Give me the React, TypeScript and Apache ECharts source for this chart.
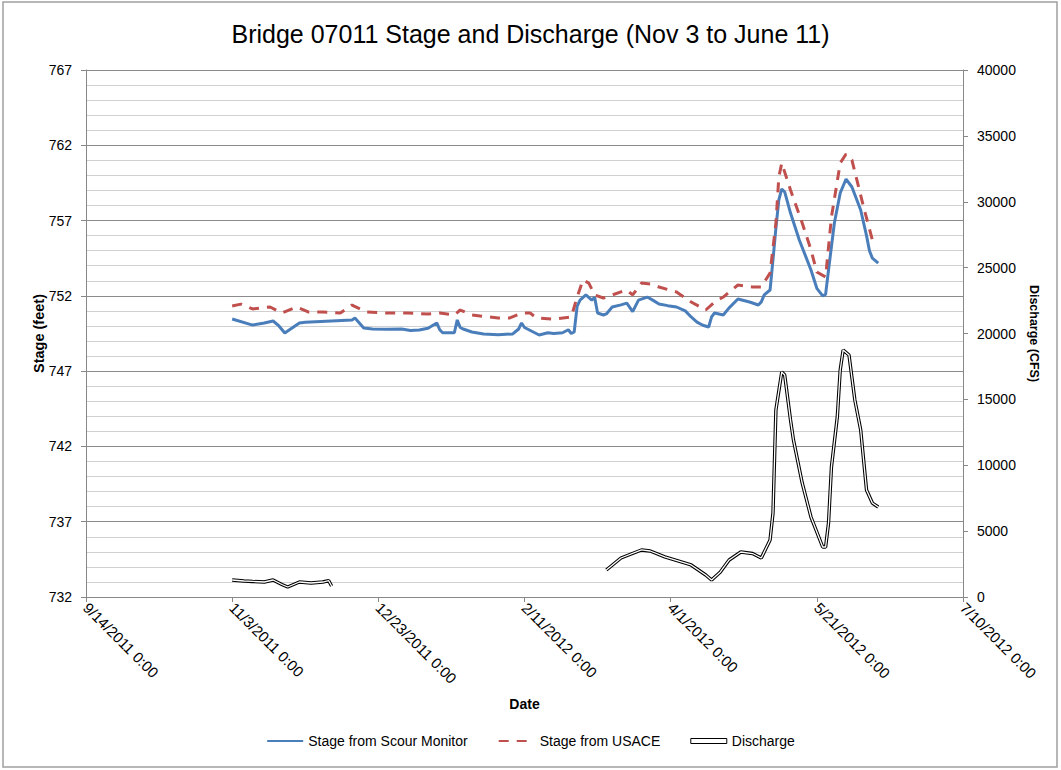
import React, { useEffect, useRef } from "react";
import * as echarts from "echarts";

const FONT = "'Liberation Sans', Arial, sans-serif";
const START = Date.UTC(2011, 8, 14);
const DAY = 86400000;

const scourDates = ["2011-11-03","2011-11-10","2011-11-14","2011-11-17","2011-11-19","2011-11-21","2011-11-26","2011-11-28","2011-12-14","2011-12-15","2011-12-18","2011-12-21","2011-12-26","2011-12-31","2012-01-03","2012-01-06","2012-01-09","2012-01-12","2012-01-13","2012-01-14","2012-01-18","2012-01-19","2012-01-20","2012-01-21","2012-01-24","2012-01-28","2012-02-02","2012-02-07","2012-02-09","2012-02-10","2012-02-11","2012-02-13","2012-02-16","2012-02-19","2012-02-21","2012-02-24","2012-02-26","2012-02-27","2012-02-28","2012-02-29","2012-03-01","2012-03-03","2012-03-05","2012-03-06","2012-03-07","2012-03-09","2012-03-10","2012-03-12","2012-03-15","2012-03-17","2012-03-19","2012-03-21","2012-03-24","2012-03-26","2012-03-28","2012-03-31","2012-04-03","2012-04-06","2012-04-08","2012-04-10","2012-04-12","2012-04-14","2012-04-15","2012-04-16","2012-04-19","2012-04-21","2012-04-24","2012-04-28","2012-05-01","2012-05-02","2012-05-03","2012-05-05","2012-05-06","2012-05-07","2012-05-08","2012-05-09","2012-05-10","2012-05-12","2012-05-15","2012-05-19","2012-05-21","2012-05-23","2012-05-24","2012-05-25","2012-05-27","2012-05-29","2012-05-31","2012-06-02","2012-06-05","2012-06-07","2012-06-08","2012-06-09","2012-06-11"];
const scourStage = [750.46,750.06,750.2,750.33,750.0,749.53,750.2,750.25,750.4,750.53,749.87,749.8,749.78,749.8,749.7,749.73,749.85,750.2,749.75,749.55,749.55,750.4,749.9,749.8,749.6,749.47,749.42,749.47,749.8,750.2,749.9,749.7,749.4,749.55,749.5,749.55,749.75,749.5,749.6,751.3,751.72,752.06,751.72,751.9,750.86,750.73,750.8,751.26,751.4,751.52,750.95,751.72,751.92,751.7,751.46,751.35,751.26,751.0,750.6,750.26,750.05,749.93,750.6,750.86,750.73,751.2,751.79,751.59,751.39,751.6,752.06,752.39,754.4,756.5,758.37,759.1,758.9,757.5,755.71,753.72,752.5,752.0,752.1,753.72,756.84,758.83,759.76,759.23,757.7,756.0,755.0,754.5,754.18];

const usaceDates = ["2011-11-03","2011-11-06","2011-11-10","2011-11-16","2011-11-20","2011-11-25","2011-11-29","2011-12-04","2011-12-10","2011-12-14","2011-12-19","2011-12-26","2012-01-02","2012-01-09","2012-01-13","2012-01-18","2012-01-20","2012-01-24","2012-02-02","2012-02-06","2012-02-10","2012-02-13","2012-02-15","2012-02-21","2012-02-27","2012-02-29","2012-03-02","2012-03-04","2012-03-06","2012-03-09","2012-03-15","2012-03-17","2012-03-19","2012-03-22","2012-03-25","2012-03-28","2012-04-03","2012-04-08","2012-04-13","2012-04-16","2012-04-19","2012-04-24","2012-04-29","2012-05-02","2012-05-05","2012-05-07","2012-05-08","2012-05-09","2012-05-12","2012-05-16","2012-05-19","2012-05-21","2012-05-24","2012-05-26","2012-05-29","2012-05-31","2012-06-02","2012-06-06","2012-06-09","2012-06-11"];
const usaceStage = [751.33,751.45,751.13,751.26,750.86,751.26,750.93,750.93,750.86,751.39,750.93,750.86,750.86,750.79,750.86,750.73,751.06,750.73,750.53,750.53,750.86,750.86,750.53,750.46,750.6,751.92,753.05,752.85,752.06,751.86,752.26,752.39,752.06,752.85,752.79,752.59,752.26,751.59,751.06,751.59,751.92,752.72,752.59,752.59,753.52,756.84,759.89,760.82,759.03,756.84,755.05,753.58,753.25,757.24,760.82,761.42,761.02,757.9,755.71,755.51];

const dischargeDatesA = ["2011-11-03","2011-11-07","2011-11-10","2011-11-14","2011-11-17","2011-11-20","2011-11-22","2011-11-26","2011-11-30","2011-12-04","2011-12-06","2011-12-07"];
const dischargeA = [1290,1214,1180,1138,1290,950,760,1138,1063,1138,1250,835];

const dischargeDatesB = ["2012-03-10","2012-03-15","2012-03-22","2012-03-25","2012-03-30","2012-04-08","2012-04-13","2012-04-15","2012-04-18","2012-04-21","2012-04-25","2012-04-29","2012-05-02","2012-05-05","2012-05-06","2012-05-07","2012-05-09","2012-05-10","2012-05-12","2012-05-13","2012-05-16","2012-05-19","2012-05-23","2012-05-24","2012-05-25","2012-05-26","2012-05-28","2012-05-29","2012-05-30","2012-06-01","2012-06-03","2012-06-05","2012-06-07","2012-06-09","2012-06-11"];
const dischargeB = [2050,2960,3570,3490,3040,2430,1670,1290,1900,2810,3415,3300,2960,4326,6376,14190,17080,16850,13430,11920,8650,6070,3795,3795,5617,9870,13660,17230,18750,18370,14950,12680,8120,7130,6830];

const toDay = (s: string) => {
  const [y, m, d] = s.split("-").map(Number);
  return (Date.UTC(y, m - 1, d) - START) / DAY;
};
const pairs = (dates: string[], vals: number[]) => dates.map((d, i) => [toDay(d), vals[i]]);
const dayLabel = (v: number) => {
  const dt = new Date(START + v * DAY);
  return `${dt.getUTCMonth() + 1}/${dt.getUTCDate()}/${dt.getUTCFullYear()} 0:00`;
};

export default function App() {
  const ref = useRef<HTMLDivElement>(null);
  useEffect(() => {
    if (!ref.current) return;
    const chart = echarts.init(ref.current, undefined, { renderer: "svg" });
    const dischargeData: any[] = [...pairs(dischargeDatesA, dischargeA), [toDay("2011-12-08"), null], ...pairs(dischargeDatesB, dischargeB)];
    chart.setOption({
      animation: false,
      backgroundColor: "#fff",
      textStyle: { fontFamily: FONT },
      title: {
        text: "Bridge 07011 Stage and Discharge (Nov 3 to June 11)",
        left: "center",
        top: 16,
        textStyle: { fontFamily: FONT, fontSize: 25, fontWeight: "normal", color: "#000" },
      },
      graphic: [
        { type: "rect", shape: { x: 3, y: 2, width: 1054, height: 765 }, style: { fill: "none", stroke: "#a0a0a0", lineWidth: 1.5 }, silent: true },
      ],
      legend: {
        bottom: 17,
        left: "center",
        itemWidth: 36,
        itemHeight: 5,
        itemGap: 30,
        textStyle: { fontFamily: FONT, fontSize: 14, color: "#000" },
        data: [
          { name: "Stage from Scour Monitor", itemStyle: { opacity: 0 } },
          { name: "Stage from USACE", itemStyle: { opacity: 0 } },
          { name: "Discharge", icon: "rect", itemStyle: { color: "#fff", borderColor: "#000", borderWidth: 1 } },
        ],
      },
      grid: { left: 86, right: 98, top: 70, bottom: 173 },
      xAxis: {
        type: "value",
        min: 0,
        max: 300,
        interval: 50,
        name: "Date",
        nameLocation: "middle",
        nameGap: 100,
        nameMoveOverlap: false,
        nameTextStyle: { fontFamily: FONT, fontSize: 14, fontWeight: "bold", color: "#000" },
        axisLine: { show: true, lineStyle: { color: "#888" } },
        axisTick: { show: true, length: 5, lineStyle: { color: "#888" } },
        splitLine: { show: false },
        axisLabel: { rotate: -45, margin: 8, fontSize: 15, color: "#000", fontFamily: FONT, formatter: dayLabel },
      },
      yAxis: [
        {
          type: "value",
          min: 732,
          max: 767,
          interval: 5,
          name: "Stage (feet)",
          nameLocation: "middle",
          nameGap: 40,
          nameMoveOverlap: false,
          nameTextStyle: { fontFamily: FONT, fontSize: 14.5, fontWeight: "bold", color: "#000" },
          axisLine: { show: true, lineStyle: { color: "#888" } },
          axisTick: { show: true, length: 5, lineStyle: { color: "#888" } },
          axisLabel: { fontSize: 14, color: "#000", margin: 14, fontFamily: FONT },
          splitLine: { show: true, lineStyle: { color: "#8c8c8c", width: 1 } },
          minorTick: { show: false, splitNumber: 5 },
          minorSplitLine: { show: true, lineStyle: { color: "#d0d0d0", width: 1.2 } },
        },
        {
          type: "value",
          min: 0,
          max: 40000,
          interval: 5000,
          name: "Discharge (CFS)",
          nameLocation: "middle",
          nameRotate: -90,
          nameGap: 64,
          nameTextStyle: { fontFamily: FONT, fontSize: 12.5, fontWeight: "bold", color: "#000" },
          axisLine: { show: true, lineStyle: { color: "#888" } },
          axisTick: { show: true, length: 5, lineStyle: { color: "#888" } },
          axisLabel: { fontSize: 14, color: "#000", margin: 14, fontFamily: FONT, formatter: (v: number) => String(v) },
          splitLine: { show: false },
        },
      ],
      series: [
        {
          name: "Discharge",
          type: "line",
          yAxisIndex: 1,
          symbol: "none",
          connectNulls: false,
          data: dischargeData,
          lineStyle: { color: "#000", width: 3.4 },
          itemStyle: { color: "#000" },
          z: 2,
        },
        {
          name: "Discharge inner",
          type: "line",
          yAxisIndex: 1,
          symbol: "none",
          connectNulls: false,
          data: dischargeData,
          lineStyle: { color: "#fff", width: 1.3 },
          itemStyle: { color: "#fff" },
          z: 3,
        },
        {
          name: "Stage from Scour Monitor",
          type: "line",
          yAxisIndex: 0,
          symbol: "none",
          data: pairs(scourDates, scourStage),
          lineStyle: { color: "#4a7ebb", width: 3 },
          itemStyle: { color: "#4a7ebb" },
          z: 4,
        },
        {
          name: "Stage from USACE",
          type: "line",
          yAxisIndex: 0,
          symbol: "none",
          data: pairs(usaceDates, usaceStage),
          lineStyle: { color: "#c0504d", width: 3, type: [10, 8] },
          itemStyle: { color: "#c0504d" },
          z: 5,
        },
      ],
    });
    return () => chart.dispose();
  }, []);
  return <div ref={ref} style={{ position: "fixed", left: 0, top: 0, width: 1061, height: 770 }} />;
}
